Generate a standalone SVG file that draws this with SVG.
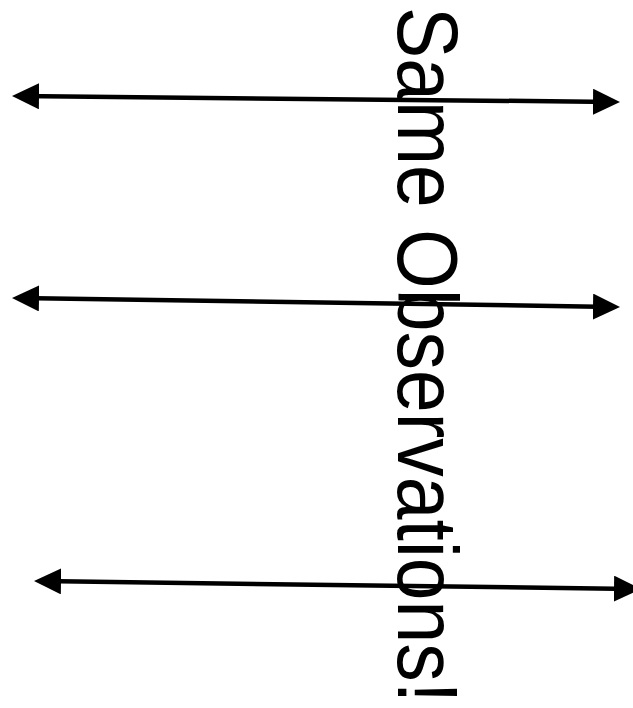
<svg xmlns="http://www.w3.org/2000/svg" width="633" height="708" viewBox="0 0 633 708">
<defs>
<marker id="ah" markerUnits="userSpaceOnUse" markerWidth="28" markerHeight="28" viewBox="0 0 28 28" refX="20" refY="13" orient="auto-start-reverse">
<path d="M0,0 L27,13 L0,26 z" fill="#000"/>
</marker>
<style>
.conn{stroke:#000;stroke-width:4.5;fill:none;marker-start:url(#ah);marker-end:url(#ah)}
.lbl{font-family:"Gill Sans","Liberation Sans",Arial,sans-serif;font-size:86px;fill:#000}
</style>
</defs>
<rect width="633" height="708" fill="#fff"/>
<g id="connectors">
<line class="conn" x1="19" y1="96.1" x2="613" y2="101.9"/>
<line class="conn" x1="19" y1="298.1" x2="613" y2="306.9"/>
<line class="conn" x1="41" y1="581.1" x2="634" y2="588.9"/>
</g>
<g id="label">
<text class="lbl" transform="translate(398,7) rotate(90)" x="0" y="0" textLength="696" lengthAdjust="spacingAndGlyphs">Same Observations!</text>
</g>
</svg>
